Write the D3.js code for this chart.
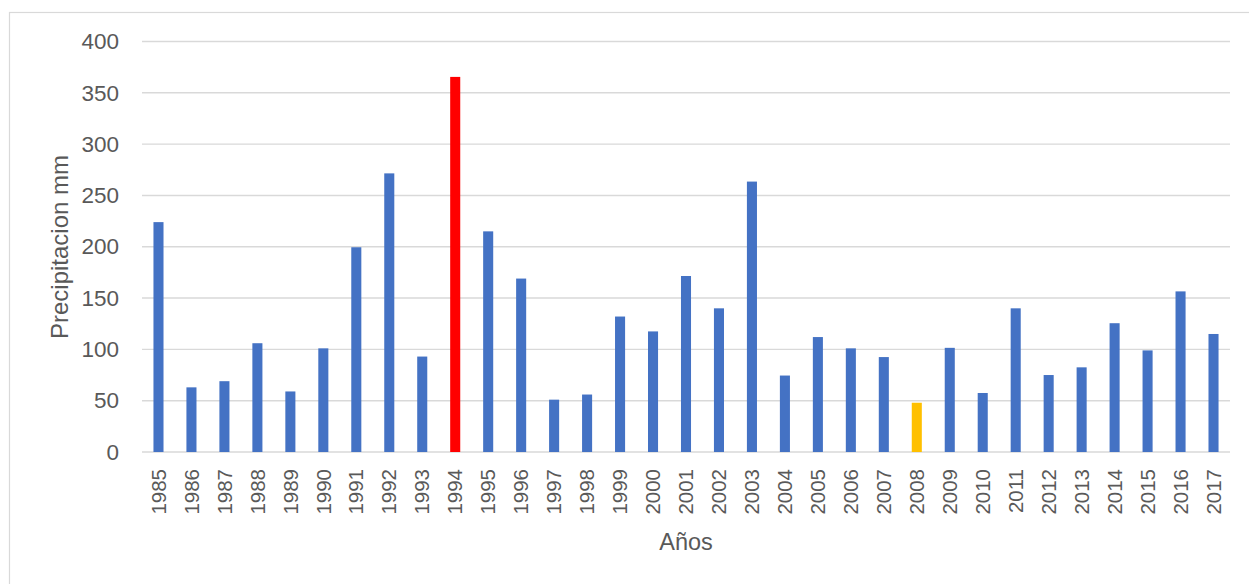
<!DOCTYPE html>
<html>
<head>
<meta charset="utf-8">
<script src="https://cdn.jsdelivr.net/npm/d3@7"></script>
<style>
  html, body { margin: 0; padding: 0; background: #fff; }
  svg { display: block; }
  text { font-family: "Liberation Sans", Arial, sans-serif; fill: #595959; }
</style>
</head>
<body>
<svg id="chart" width="1249" height="584"></svg>
<script>
const years = ["1985","1986","1987","1988","1989","1990","1991","1992","1993","1994","1995","1996","1997","1998","1999","2000","2001","2002","2003","2004","2005","2006","2007","2008","2009","2010","2011","2012","2013","2014","2015","2016","2017"];
const precip = [224,63,69,106,59,101,199.5,271.5,93,365.5,215,169,51,56,132,117.5,171.5,140,263.5,74.5,112,101,92.5,48,101.5,57.5,140,75,82.5,125.5,99,156.5,115];
const highlightYears = { "1994": "#FF0000", "2008": "#FFC000" };
const yTicks = [0,50,100,150,200,250,300,350,400];
const yTitle = "Precipitacion mm";
const xTitle = "Años";

const svg = d3.select("#chart");
const plotLeft = 142, plotRight = 1230, plotTop = 41.5, plotBottom = 452;

// outer border
svg.append("rect").attr("x", 9.5).attr("y", 12.5).attr("width", 1300).attr("height", 700)
  .attr("fill", "none").attr("stroke", "#d9d9d9").attr("stroke-width", 1.2);

const x = d3.scaleBand().domain(years).range([plotLeft, plotRight]).paddingInner(0.695).paddingOuter(0.3475);
const y = d3.scaleLinear().domain([0, 400]).range([plotBottom, plotTop]);

// gridlines
svg.append("g").selectAll("line").data(yTicks).join("line")
  .attr("x1", plotLeft).attr("x2", plotRight)
  .attr("y1", d => y(d)).attr("y2", d => y(d))
  .attr("stroke", "#d9d9d9").attr("stroke-width", 1.4);

// y axis labels
const yAxis = d3.axisLeft(y).tickValues(yTicks).tickSize(0).tickPadding(23);
const gy = svg.append("g").attr("transform", `translate(${plotLeft},0)`).call(yAxis);
gy.select(".domain").remove();
gy.selectAll("text").style("font-size", "22.5px").attr("fill", "#595959")
  .style("font-family", '"Liberation Sans", Arial, sans-serif');

// bars
svg.append("g").selectAll("rect").data(years).join("rect")
  .attr("x", d => x(d))
  .attr("width", x.bandwidth())
  .attr("y", (d, i) => y(precip[i]))
  .attr("height", (d, i) => y(0) - y(precip[i]))
  .attr("fill", d => highlightYears[d] || "#4472C4");

// x axis labels
const xAxis = d3.axisBottom(x).tickSize(0).tickPadding(0);
const gx = svg.append("g").attr("transform", `translate(0,${plotBottom})`).call(xAxis);
gx.select(".domain").remove();
gx.selectAll("text")
  .style("font-size", "20.5px").attr("fill", "#595959")
  .style("font-family", '"Liberation Sans", Arial, sans-serif')
  .attr("transform", "rotate(-90)")
  .attr("x", -17).attr("y", 0).attr("dy", "0.35em")
  .attr("text-anchor", "end");

// axis titles
svg.append("text").attr("x", (plotLeft + plotRight) / 2).attr("y", 550)
  .attr("text-anchor", "middle").style("font-size", "23.5px").text(xTitle);
svg.append("text").attr("transform", "translate(68,247) rotate(-90)")
  .attr("text-anchor", "middle").style("font-size", "24px").text(yTitle);
</script>
</body>
</html>
